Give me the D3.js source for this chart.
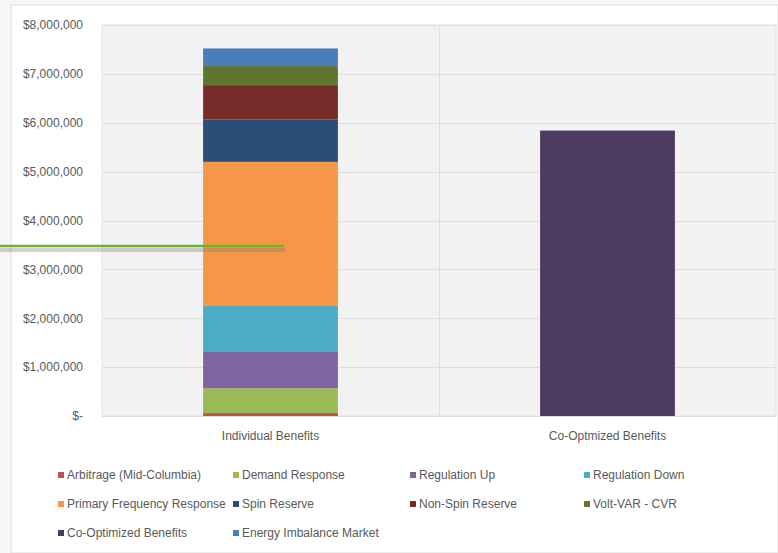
<!DOCTYPE html>
<html>
<head>
<meta charset="utf-8">
<script src="https://cdn.jsdelivr.net/npm/d3@7"></script>
<style>
  html, body { margin: 0; padding: 0; background: #f7f7f7; }
  svg { display: block; }
  text { font-family: "Liberation Sans", Arial, sans-serif; fill: #595959; }
</style>
</head>
<body>
<svg id="chart" width="778" height="553"></svg>
<script>
const categories = ["Individual Benefits", "Co-Optmized Benefits"];
const seriesNames = [
  "Arbitrage (Mid-Columbia)", "Demand Response", "Regulation Up", "Regulation Down",
  "Primary Frequency Response", "Spin Reserve", "Non-Spin Reserve", "Volt-VAR - CVR",
  "Co-Optimized Benefits", "Energy Imbalance Market"
];
const seriesColors = [
  "#c0504d", "#9bbb59", "#8064a2", "#4bacc6",
  "#f79646", "#2c4d75", "#772c2a", "#5f7530",
  "#4d3b62", "#4a7ebb"
];
const individualValues = [60000, 510000, 740000, 940000, 2950000, 870000, 700000, 390000, 0, 360000];
const coOptimizedValues = [0, 0, 0, 0, 0, 0, 0, 0, 5840000, 0];
const yTicks = [0, 1000000, 2000000, 3000000, 4000000, 5000000, 6000000, 7000000, 8000000];

const svg = d3.select("#chart");
const W = 778, H = 553;
const FONT = 12;

// chart container
svg.append("rect").attr("x", 11).attr("y", 5).attr("width", W - 11).attr("height", H - 5)
  .attr("fill", "#ffffff").attr("stroke", "#dcdcdc");

const plot = { left: 102, right: 776, top: 25, bottom: 416 };

const rows = categories.map((c, i) => {
  const o = { category: c };
  seriesNames.forEach((s, j) => { o[s] = i === 0 ? individualValues[j] : coOptimizedValues[j]; });
  return o;
});
const stacked = d3.stack().keys(seriesNames)(rows);

const x = d3.scaleBand().domain(categories).range([plot.left, plot.right]).paddingInner(0.6).paddingOuter(0.3);
const xOuter = d3.scaleBand().domain(categories).range([plot.left, plot.right]);
const y = d3.scaleLinear().domain([0, 8000000]).range([plot.bottom, plot.top]);
const color = d3.scaleOrdinal().domain(seriesNames).range(seriesColors);

// plot background
svg.append("rect").attr("x", plot.left).attr("y", plot.top)
  .attr("width", plot.right - plot.left).attr("height", plot.bottom - plot.top)
  .attr("fill", "#f2f2f2").attr("stroke", "#e3e3e3");

// gridlines
svg.append("g").selectAll("line").data(yTicks).join("line")
  .attr("x1", plot.left).attr("x2", plot.right)
  .attr("y1", d => Math.round(y(d)) + 0.5).attr("y2", d => Math.round(y(d)) + 0.5)
  .attr("stroke", "#dedede");
// vertical category divider
svg.append("line")
  .attr("x1", xOuter(categories[1]) + 0.5).attr("x2", xOuter(categories[1]) + 0.5)
  .attr("y1", plot.top).attr("y2", plot.bottom)
  .attr("stroke", "#e0e0e0");

// y axis
const yAxis = d3.axisLeft(y).tickValues(yTicks).tickSize(0).tickPadding(0)
  .tickFormat(d => d === 0 ? "$-" : "$" + d3.format(",")(d));
const gy = svg.append("g").attr("transform", `translate(${83},0)`).call(yAxis);
gy.select(".domain").remove();
gy.selectAll("text").attr("font-size", FONT).attr("fill", "#595959")
  .style("font-family", "'Liberation Sans', Arial, sans-serif");

// bars
svg.append("g").selectAll("g").data(stacked).join("g")
  .attr("fill", d => color(d.key))
  .selectAll("rect").data(d => d).join("rect")
  .attr("x", d => x(d.data.category))
  .attr("width", x.bandwidth())
  .attr("y", d => y(d[1]))
  .attr("height", d => y(d[0]) - y(d[1]));

// x axis labels
const xAxis = d3.axisBottom(xOuter).tickSize(0).tickPadding(0);
const gx = svg.append("g").attr("transform", `translate(0,${plot.bottom + 15})`).call(xAxis);
gx.select(".domain").remove();
gx.selectAll("text").attr("font-size", FONT).attr("fill", "#595959")
  .style("font-family", "'Liberation Sans', Arial, sans-serif");

// legend
const legendCols = [58, 233, 410, 584];
const legendRows = [475, 504, 533];
const legend = svg.append("g").selectAll("g").data(seriesNames).join("g")
  .attr("transform", (d, i) => `translate(${legendCols[i % 4]},${legendRows[Math.floor(i / 4)]})`);
legend.append("rect").attr("x", 0).attr("y", -3).attr("width", 6).attr("height", 6)
  .attr("fill", d => color(d));
legend.append("text").attr("x", 9).attr("y", 0).attr("dy", "0.35em")
  .attr("font-size", FONT).text(d => d);

// overlay annotation line (green marker with shadow)
svg.append("rect").attr("x", 0).attr("y", 248).attr("width", 285).attr("height", 4)
  .attr("fill", "#7a7a7a").attr("opacity", 0.35);
svg.append("line").attr("x1", 0).attr("x2", 284).attr("y1", 246).attr("y2", 246)
  .attr("stroke", "#6cb528").attr("stroke-width", 2.5);
</script>
</body>
</html>
